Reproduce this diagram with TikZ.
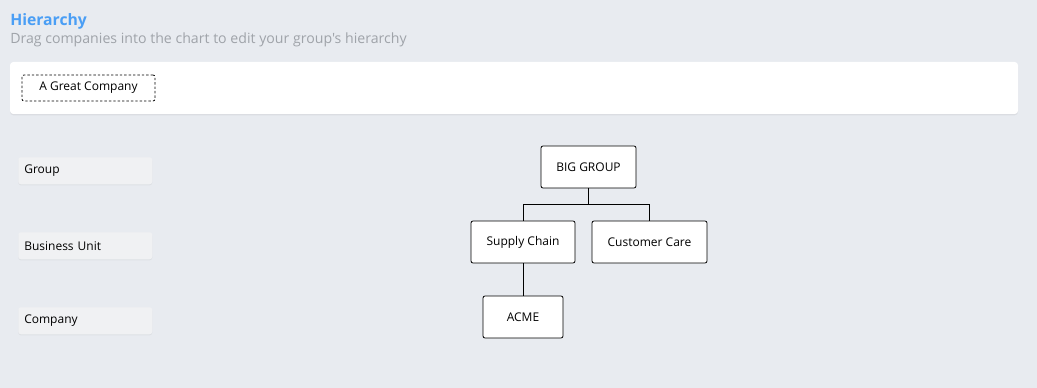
\documentclass[tikz,border=0pt]{standalone}
\usepackage{fontspec}
\setmainfont{Open Sans}[Ligatures=TeXOff]
\usepackage{tikz}
\usetikzlibrary{positioning}
\usetikzlibrary{shadows}
\definecolor{pagebg}{HTML}{E8EBF0}
\definecolor{titleblue}{HTML}{4A9EF5}
\definecolor{subgray}{HTML}{9FA3A9}
\definecolor{levelbg}{HTML}{F0F1F3}
\tikzset{
  unit/.style={draw=black,fill=white,rounded corners=1.5pt,line width=0.6pt,
    font=\fontsize{9}{11}\selectfont,inner sep=0pt},
  level/.style={fill=levelbg,rounded corners=2pt,text width=91.5pt,inner xsep=4.5pt,inner ysep=0pt,
    minimum height=20.25pt,align=left,anchor=north west,font=\fontsize{9}{11}\selectfont,
    drop shadow={shadow xshift=0pt,shadow yshift=-0.8pt,opacity=0.1}},
  tie/.style={line width=0.6pt},
}
\begin{document}
\begin{tikzpicture}[x=0.75pt,y=-0.75pt]
\fill[pagebg] (0,0) rectangle (1037,388);
\useasboundingbox (0,0) rectangle (1037,388);
% heading
\node[anchor=base west,inner sep=0pt,text=titleblue,font=\fontsize{11.8}{14}\bfseries\selectfont] (title) at (10,25.5) {Hierarchy};
\node[anchor=base west,inner sep=0pt,text=subgray,font=\fontsize{10.6}{13}\selectfont] (subtitle) at (10,44) {Drag companies into the chart to edit your group's hierarchy};
% palette of companies
\fill[white,rounded corners=2.5pt,drop shadow={shadow xshift=0pt,shadow yshift=-1pt,opacity=0.12}] (10,62) rectangle (1018,114);
\node[draw=black,dash pattern=on 1.8pt off 1.5pt,fill=white,rounded corners=1.5pt,line width=0.6pt,inner sep=0pt,
  minimum width=99.75pt,minimum height=19.5pt,font=\fontsize{9}{11}\selectfont] (great) at (88.5,88) {A Great Company};
% level labels
\node[level] (lgroup) at (18,157) {Group};
\node[level] (lunit) at (18,232) {Business Unit};
\node[level] (lcompany) at (18,307) {Company};
% chart
\node[unit,minimum width=71.25pt,minimum height=31.5pt] (big) at (588.5,167) {BIG GROUP};
\node[unit,minimum width=78pt,minimum height=31.5pt] (supply) at (523,242) {Supply Chain};
\node[unit,minimum width=86.25pt,minimum height=31.5pt] (care) at (649.5,242) {Customer Care};
\node[unit,minimum width=60pt,minimum height=31.5pt] (acme) at (523,317) {ACME};
\coordinate (fork) at (588.5,204);
\draw[tie] (big.south) -- (fork) -| (supply.north);
\draw[tie] (fork) -| (care.north);
\draw[tie] (supply.south) -- (acme.north);
\end{tikzpicture}
\end{document}
